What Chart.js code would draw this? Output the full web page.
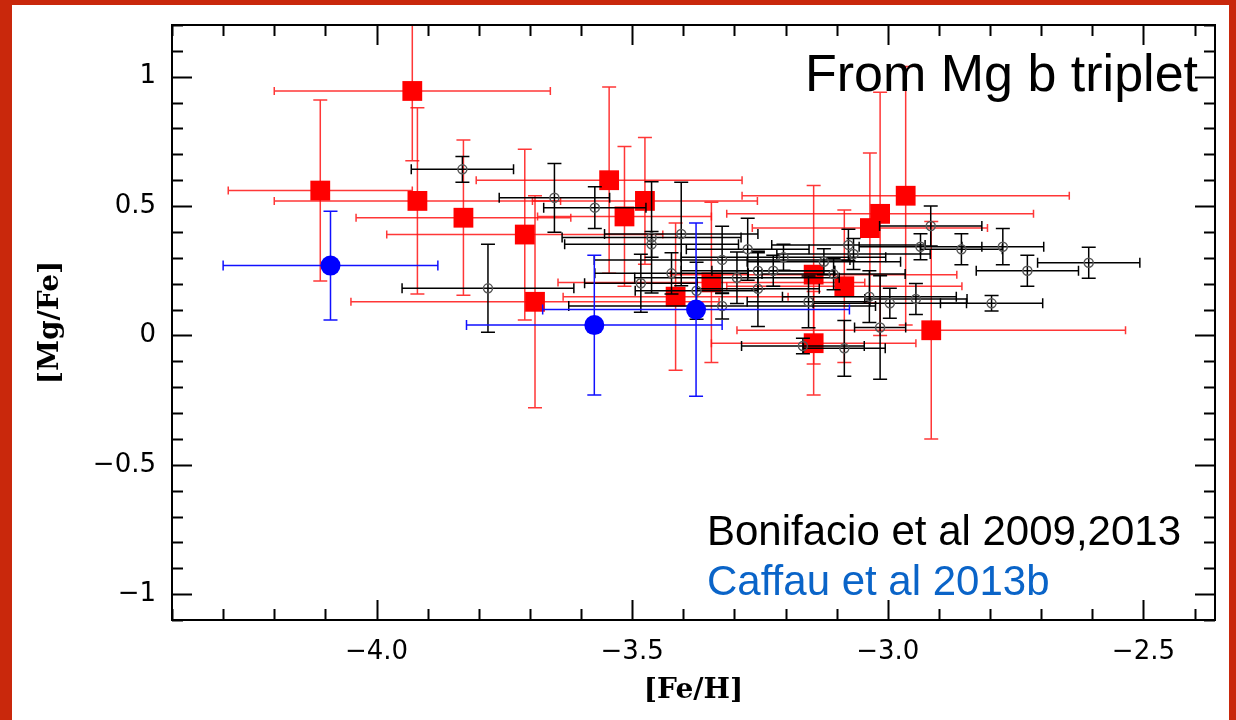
<!DOCTYPE html>
<html lang="en">
<head>
    <meta charset="UTF-8">
    <title>[Mg/Fe] vs [Fe/H] - From Mg b triplet</title>
    <script src="https://cdn.jsdelivr.net/npm/chart.js"></script>
    <style>
        html, body { margin: 0; padding: 0; }
        body { width: 1236px; height: 720px; background: #c9280c; position: relative; overflow: hidden; }
        #painel { position: absolute; left: 12px; top: 5px; width: 1217px; height: 715px; background: #fff; }
    </style>
</head>
<body>
    <div id="painel"><canvas id="grafico"></canvas></div>

    <script>
        // ------------------------------------------------
        // Data: [Fe/H], [Mg/Fe] and their errors
        // ------------------------------------------------
        // red squares
        const redFeH = [-4.11, -3.93, -3.92, -3.83, -3.71, -3.69, -3.545, -3.515, -3.475, -3.415, -3.345, -3.145, -3.145, -3.085, -3.035, -3.015, -2.965, -2.915];
        const redMgFe = [0.56, 0.945, 0.52, 0.455, 0.39, 0.13, 0.60, 0.46, 0.52, 0.15, 0.205, 0.235, -0.03, 0.19, 0.415, 0.47, 0.54, 0.02];
        const redErrFeH = [0.18, 0.27, 0.28, 0.21, 0.27, 0.36, 0.26, 0.17, 0.22, 0.22, 0.30, 0.28, 0.20, 0.23, 0.23, 0.30, 0.32, 0.38];
        const redErrMgFe = [0.35, 0.27, 0.36, 0.30, 0.33, 0.41, 0.36, 0.27, 0.245, 0.285, 0.31, 0.345, 0.20, 0.295, 0.29, 0.47, 0.50, 0.42];

        // Bonifacio et al 2009,2013 (open circles)
        const bonFeH = [-3.832, -3.652, -3.782, -3.573, -3.462, -3.462, -3.483, -3.404, -3.423, -3.374, -3.324, -3.324,
                        -3.295, -3.274, -3.254, -3.254, -3.224, -3.204, -3.155, -3.166, -3.125, -3.106, -3.085, -3.077,
                        -3.067, -3.036, -3.015, -2.996, -2.945, -2.936, -2.916, -2.856, -2.775, -2.727, -2.607, -2.797];
        const bonMgFe = [0.642, 0.532, 0.182, 0.494, 0.379, 0.352, 0.202, 0.392, 0.240, 0.173, 0.292, 0.114,
                         0.223, 0.333, 0.25, 0.18, 0.25, 0.302, 0.13, -0.041, 0.285, 0.237, -0.05, 0.35,
                         0.315, 0.15, 0.031, 0.124, 0.141, 0.343, 0.423, 0.333, 0.343, 0.25, 0.281, 0.124];
        const bonErrFeH = [0.10, 0.108, 0.168, 0.10, 0.175, 0.17, 0.11, 0.15, 0.15, 0.12, 0.25, 0.30,
                           0.20, 0.12, 0.15, 0.12, 0.12, 0.20, 0.12, 0.12, 0.15, 0.14, 0.08, 0.15,
                           0.15, 0.17, 0.05, 0.15, 0.10, 0.12, 0.10, 0.08, 0.08, 0.10, 0.10, 0.10];
        const bonErrMgFe = [0.05, 0.133, 0.17, 0.081, 0.215, 0.05, 0.112, 0.20, 0.08, 0.11, 0.13, 0.05,
                            0.10, 0.12, 0.07, 0.145, 0.06, 0.05, 0.10, 0.03, 0.05, 0.06, 0.108, 0.06,
                            0.06, 0.10, 0.20, 0.058, 0.06, 0.05, 0.077, 0.06, 0.07, 0.06, 0.06, 0.03];

        // Caffau et al 2013b (blue dots)
        const cafFeH = [-4.09, -3.574, -3.375];
        const cafMgFe = [0.27, 0.04, 0.10];
        const cafErrFeH = [0.21, 0.25, 0.30];
        const cafErrMgFe = [0.21, 0.27, 0.335];

        // axis ticks and their labels
        const xTicks = [-4.0, -3.5, -3.0, -2.5];
        const xTickLabels = ['\u22124.0', '\u22123.5', '\u22123.0', '\u22122.5'];
        const yTicks = [-1, -0.5, 0, 0.5, 1];
        const yTickLabels = ['\u22121', '\u22120.5', '0', '0.5', '1'];

        const pontos = (xs, ys) => xs.map((x, i) => ({ x: x, y: ys[i] }));

        // ------------------------------------------------
        // Error bars, drawn just before each dataset's markers
        const barrasDeErro = {
            id: 'barrasDeErro',
            beforeDatasetDraw(chart, args) {
                const ds = chart.data.datasets[args.index];
                if (!ds.errX) return;
                const { ctx, chartArea: a, scales: { x, y } } = chart;
                ctx.save();
                ctx.beginPath();
                ctx.rect(a.left, a.top, a.right - a.left, a.bottom - a.top);
                ctx.clip();
                ctx.strokeStyle = ds.errColor;
                ctx.lineWidth = 1.5;
                ds.data.forEach((p, i) => {
                    const px = x.getPixelForValue(p.x);
                    const py = y.getPixelForValue(p.y);
                    const x0 = x.getPixelForValue(p.x - ds.errX[i]);
                    const x1 = x.getPixelForValue(p.x + ds.errX[i]);
                    const y0 = y.getPixelForValue(p.y - ds.errY[i]);
                    const y1 = y.getPixelForValue(p.y + ds.errY[i]);
                    ctx.beginPath();
                    ctx.moveTo(x0, py); ctx.lineTo(x1, py);
                    ctx.moveTo(x0, py - ds.capX); ctx.lineTo(x0, py + ds.capX);
                    ctx.moveTo(x1, py - ds.capX); ctx.lineTo(x1, py + ds.capX);
                    ctx.moveTo(px, y0); ctx.lineTo(px, y1);
                    ctx.moveTo(px - ds.capY, y0); ctx.lineTo(px + ds.capY, y0);
                    ctx.moveTo(px - ds.capY, y1); ctx.lineTo(px + ds.capY, y1);
                    ctx.stroke();
                });
                ctx.restore();
            }
        };

        // ------------------------------------------------
        // Box frame with inward ticks on all four sides
        const moldura = {
            id: 'moldura',
            afterDatasetsDraw(chart) {
                const { ctx, chartArea: a, scales: { x, y } } = chart;
                ctx.save();
                ctx.strokeStyle = '#000';
                ctx.lineWidth = 2;
                ctx.strokeRect(a.left, a.top, a.right - a.left, a.bottom - a.top);
                ctx.beginPath();
                for (let k = -44; k <= -24; k++) {
                    const px = Math.round(x.getPixelForValue(k / 10)) + 0.5;
                    const len = (k % 5 === 0) ? 20 : 11;
                    ctx.moveTo(px, a.bottom); ctx.lineTo(px, a.bottom - len);
                    ctx.moveTo(px, a.top); ctx.lineTo(px, a.top + len);
                }
                for (let k = -11; k <= 12; k++) {
                    const py = Math.round(y.getPixelForValue(k / 10)) + 0.5;
                    const len = (k % 5 === 0) ? 20 : 11;
                    ctx.moveTo(a.left, py); ctx.lineTo(a.left + len, py);
                    ctx.moveTo(a.right, py); ctx.lineTo(a.right - len, py);
                }
                ctx.stroke();
                ctx.restore();
            }
        };

        // ------------------------------------------------
        // Texts written inside the plot
        const anotacoes = {
            id: 'anotacoes',
            afterDraw(chart) {
                const { ctx, chartArea: a } = chart;
                ctx.save();
                ctx.textBaseline = 'alphabetic';
                ctx.fillStyle = '#000';
                ctx.font = '52px "Liberation Sans", Arial, sans-serif';
                ctx.textAlign = 'right';
                ctx.fillText('From Mg b triplet', a.right - 17, a.top + 66);
                ctx.textAlign = 'left';
                ctx.font = '42px "Liberation Sans", Arial, sans-serif';
                ctx.fillText('Bonifacio et al 2009,2013', a.left + 535, a.top + 520);
                ctx.fillStyle = '#0a64c8';
                ctx.fillText('Caffau et al 2013b', a.left + 535, a.top + 570);
                ctx.restore();
            }
        };

        window.onload = () => {
            const ctx = document.getElementById('grafico');
            new Chart(ctx, {
                type: 'scatter',
                data: {
                    datasets: [
                        {
                            label: 'Caffau et al 2013b',
                            data: pontos(cafFeH, cafMgFe),
                            errX: cafErrFeH, errY: cafErrMgFe,
                            errColor: '#1010ff', capX: 5, capY: 7,
                            pointStyle: 'circle', pointRadius: 10,
                            backgroundColor: '#0000ff', borderColor: '#0000ff', borderWidth: 0,
                            order: 1
                        },
                        {
                            label: 'Bonifacio et al 2009,2013',
                            data: pontos(bonFeH, bonMgFe),
                            errX: bonErrFeH, errY: bonErrMgFe,
                            errColor: '#000', capX: 5, capY: 7,
                            pointStyle: 'circle', pointRadius: 4.5,
                            backgroundColor: 'rgba(0,0,0,0)', borderColor: '#555', borderWidth: 1.5,
                            order: 2
                        },
                        {
                            label: 'Mg b triplet',
                            data: pontos(redFeH, redMgFe),
                            errX: redErrFeH, errY: redErrMgFe,
                            errColor: 'rgba(255, 20, 20, 0.85)', capX: 4, capY: 7,
                            pointStyle: 'rect', pointRadius: 14,
                            backgroundColor: '#ff0000', borderColor: '#ff0000', borderWidth: 0,
                            order: 3
                        }
                    ]
                },
                options: {
                    responsive: true,
                    maintainAspectRatio: false,
                    animation: false,
                    events: [],
                    layout: { padding: { top: 20, right: 12, left: 0, bottom: 0 } },
                    plugins: {
                        legend: { display: false },
                        tooltip: { enabled: false }
                    },
                    scales: {
                        x: {
                            type: 'linear',
                            min: -4.4,
                            max: -2.36,
                            grid: { display: false, drawTicks: false },
                            border: { display: false },
                            afterBuildTicks: s => { s.ticks = xTicks.map(v => ({ value: v })); },
                            afterFit: s => { s.height = 100; s.paddingLeft = 0; s.paddingRight = 0; },
                            ticks: {
                                callback: v => xTickLabels[xTicks.indexOf(v)],
                                font: { family: 'DejaVu Sans', size: 26 },
                                color: '#000',
                                padding: 17,
                                maxRotation: 0,
                                autoSkip: false
                            },
                            title: {
                                display: true,
                                text: '[Fe/H]',
                                font: { family: 'DejaVu Serif', weight: 'bold', size: 28 },
                                color: '#000',
                                padding: { bottom: 12 }
                            }
                        },
                        y: {
                            type: 'linear',
                            min: -1.1,
                            max: 1.2,
                            grid: { display: false, drawTicks: false },
                            border: { display: false },
                            afterBuildTicks: s => { s.ticks = yTicks.map(v => ({ value: v })); },
                            afterFit: s => { s.width = 160; s.paddingTop = 0; s.paddingBottom = 0; },
                            ticks: {
                                callback: v => yTickLabels[yTicks.indexOf(v)],
                                font: { family: 'DejaVu Sans', size: 26 },
                                color: '#000',
                                padding: 16
                            },
                            title: {
                                display: true,
                                text: '[Mg/Fe]',
                                font: { family: 'DejaVu Serif', weight: 'bold', size: 28 },
                                color: '#000',
                                padding: { top: 22 }
                            }
                        }
                    }
                },
                plugins: [barrasDeErro, moldura, anotacoes]
            });
        };
    </script>
</body>
</html>
